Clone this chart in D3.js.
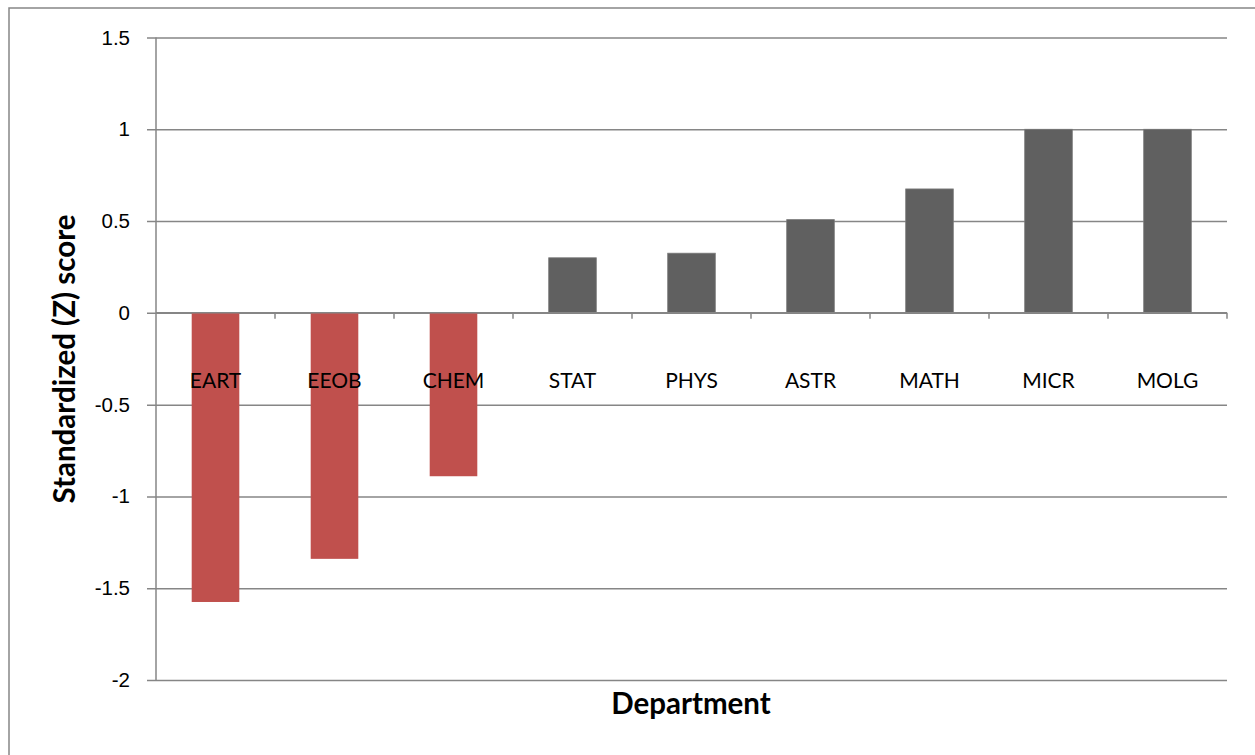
<!DOCTYPE html>
<html>
<head>
<meta charset="utf-8">
<script src="https://cdn.jsdelivr.net/npm/d3@7"></script>
<style>
  body { margin: 0; background: #fff; }
  svg { display: block; font-family: Lato, "Open Sans", sans-serif; }
</style>
</head>
<body>
<svg id="chart"></svg>
<script>
// departments and their z scores
const departments = ['EART', 'EEOB', 'CHEM', 'STAT', 'PHYS', 'ASTR', 'MATH', 'MICR', 'MOLG']
const zScores = [-1.575, -1.34, -0.89, 0.30, 0.325, 0.508, 0.675, 1.0, 1.0]
const yTicks = [-2, -1.5, -1, -0.5, 0, 0.5, 1, 1.5]

const width = 1255
const height = 755
const margin = { top: 37.5, right: 28, bottom: 75, left: 156 }

const svg = d3.select('#chart')
              .attr('width', width)
              .attr('height', height)

// outer chart border
svg.append('rect')
   .attr('x', 9).attr('y', 8)
   .attr('width', width + 10).attr('height', height + 10)
   .attr('fill', 'none')
   .attr('stroke', '#868686')
   .attr('stroke-width', 1.5)

const xScale = d3.scaleBand()
                 .domain(departments)
                 .range([margin.left, width - margin.right])
                 .paddingInner(0.6)
                 .paddingOuter(0.3)

const yScale = d3.scaleLinear()
                 .domain([-2, 1.5])
                 .range([height - margin.bottom, margin.top])

// gridlines + y axis
const yAxis = d3.axisLeft(yScale)
                .tickValues(yTicks)
                .tickSize(-(width - margin.right - margin.left + 9))
                .tickPadding(17)
                .tickFormat(d => d3.format('')(d).replace('−', '-'))

const gy = svg.append('g')
              .attr('transform', `translate(${margin.left - 9}, 0)`)
              .call(yAxis)
gy.select('.domain').remove()
gy.selectAll('line').attr('stroke', '#868686').attr('stroke-width', 1.5)
gy.selectAll('text')
  .attr('font-size', 20.5)
  .attr('fill', '#000')
  .attr('x', -17)

// left axis line
svg.append('line')
   .attr('x1', margin.left).attr('x2', margin.left)
   .attr('y1', yScale(1.5)).attr('y2', yScale(-2))
   .attr('stroke', '#868686').attr('stroke-width', 1.5)

// bars
svg.selectAll('.bar')
   .data(zScores)
   .join('rect')
   .attr('class', 'bar')
   .attr('x', (v, i) => xScale(departments[i]))
   .attr('y', v => yScale(Math.max(0, v)))
   .attr('width', xScale.bandwidth())
   .attr('height', v => Math.abs(yScale(v) - yScale(0)))
   .attr('fill', v => v < 0 ? '#C0504D' : '#606060')
   .attr('stroke', v => v < 0 ? 'none' : '#7a7a7a')
   .attr('stroke-width', 0.8)

// zero axis with category tick marks
const step = xScale.step()
const boundaries = departments.map((d, i) => margin.left + step * (i + 1))
svg.append('line')
   .attr('x1', margin.left).attr('x2', width - margin.right)
   .attr('y1', yScale(0)).attr('y2', yScale(0))
   .attr('stroke', '#868686').attr('stroke-width', 1.5)
svg.selectAll('.xtick')
   .data(boundaries)
   .join('line')
   .attr('x1', d => d).attr('x2', d => d)
   .attr('y1', yScale(0)).attr('y2', yScale(0) + 6)
   .attr('stroke', '#868686').attr('stroke-width', 1.5)

// category labels
svg.selectAll('.xlabel')
   .data(departments)
   .join('text')
   .attr('x', d => xScale(d) + xScale.bandwidth() / 2)
   .attr('y', yScale(0) + 75)
   .attr('text-anchor', 'middle')
   .attr('font-size', 21)
   .attr('fill', '#000')
   .text(d => d)

// axis titles
svg.append('text')
   .attr('x', 691).attr('y', 714)
   .attr('text-anchor', 'middle')
   .attr('font-size', 29.5)
   .attr('font-weight', 'bold')
   .text('Department')

svg.append('text')
   .attr('transform', `translate(75, 359) rotate(-90)`)
   .attr('text-anchor', 'middle')
   .attr('font-size', 29.5)
   .attr('font-weight', 'bold')
   .text('Standardized (Z) score')
</script>
</body>
</html>
